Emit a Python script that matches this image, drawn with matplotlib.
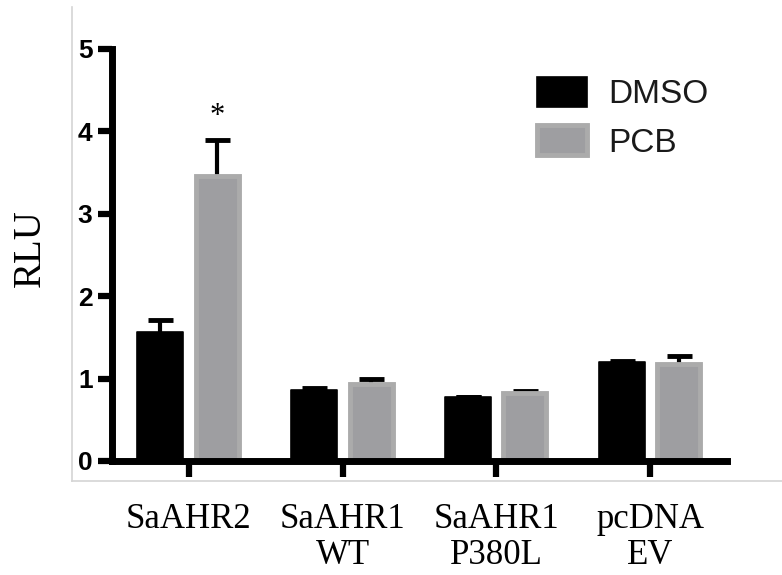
import matplotlib
matplotlib.use("Agg")
import matplotlib.pyplot as plt
from matplotlib.lines import Line2D
import numpy as np

categories = ["SaAHR2", "SaAHR1\nWT", "SaAHR1\nP380L", "pcDNA\nEV"]
series_names = ["DMSO", "PCB"]
dmso_values = [1.57, 0.86, 0.78, 1.20]
dmso_errors = [0.14, 0.02, 0.0, 0.015]
pcb_values = [3.46, 0.94, 0.82, 1.18]
pcb_errors = [0.44, 0.06, 0.03, 0.09]
yticks = [0, 1, 2, 3, 4, 5]
star_label = "*"
star_y = 4.18

W, H = 782, 575
fig = plt.figure(figsize=(W / 100, H / 100), dpi=100)
ax = fig.add_axes([112 / W, 114 / H, 615 / W, 412 / H])

x = np.arange(len(categories))
bw = 0.30
off = 0.185

b1 = ax.bar(x - off, dmso_values, bw, color="black", edgecolor="black",
            linewidth=1.2, joinstyle="round", label=series_names[0], zorder=2)
b2 = ax.bar(x + off, pcb_values, bw - 0.02, color="#9e9ea1", edgecolor="#ababab",
            linewidth=3.5, label=series_names[1], zorder=2)

ax.errorbar(x - off, dmso_values, yerr=dmso_errors, fmt="none",
            ecolor="black", elinewidth=3, capsize=9, capthick=3.5, zorder=1)
ax.errorbar(x + off, pcb_values, yerr=pcb_errors, fmt="none",
            ecolor="black", elinewidth=3, capsize=9, capthick=3.5, zorder=1)

ax.text(x[0] + off, star_y, star_label, ha="center", va="center",
        fontsize=22, family="Liberation Serif", color="black")

ax.set_xlim(-0.5, 3.5)
ax.set_ylim(0, 5)
ax.set_yticks(yticks)
ax.set_yticklabels([str(t) for t in yticks], fontsize=19, fontweight="bold",
                   family="Liberation Sans")
ax.set_xticks(x)
ax.set_xticklabels(categories, fontsize=25, family="Liberation Serif",
                   linespacing=1.12)

for s in ["top", "right"]:
    ax.spines[s].set_visible(False)
for s in ["left", "bottom"]:
    ax.spines[s].set_linewidth(5)
    ax.spines[s].set_color("black")
    ax.spines[s].set_zorder(4)
    ax.spines[s].set_capstyle("projecting")

ax.tick_params(axis="y", length=10, width=4.5, pad=4, colors="black")
ax.tick_params(axis="x", length=11.5, width=4.5, pad=19, colors="black")

ax.set_ylabel("RLU", fontsize=28, family="Liberation Serif")
ax.yaxis.set_label_coords(-0.102, 0.517)

leg = ax.legend(handles=[b1, b2], labels=series_names, loc="upper left",
                bbox_to_anchor=(537 / W, 1 - 77 / H), bbox_transform=fig.transFigure,
                frameon=False, handlelength=1.5, handleheight=1.0,
                handletextpad=0.65, labelspacing=0.45, borderpad=0, borderaxespad=0,
                prop={"family": "Liberation Sans", "size": 24})
for t in leg.get_texts():
    t.set_color("#1a1a1a")

# light gray image frame lines
fig.add_artist(Line2D([72 / W, 72 / W], [1 - 7 / H, 1 - 481 / H],
                      transform=fig.transFigure, color="#d4d4d4", lw=1.2))
fig.add_artist(Line2D([72 / W, 1.0], [1 - 481 / H, 1 - 481 / H],
                      transform=fig.transFigure, color="#d4d4d4", lw=1.2))

fig.savefig("out.png", dpi=100, facecolor="white")
